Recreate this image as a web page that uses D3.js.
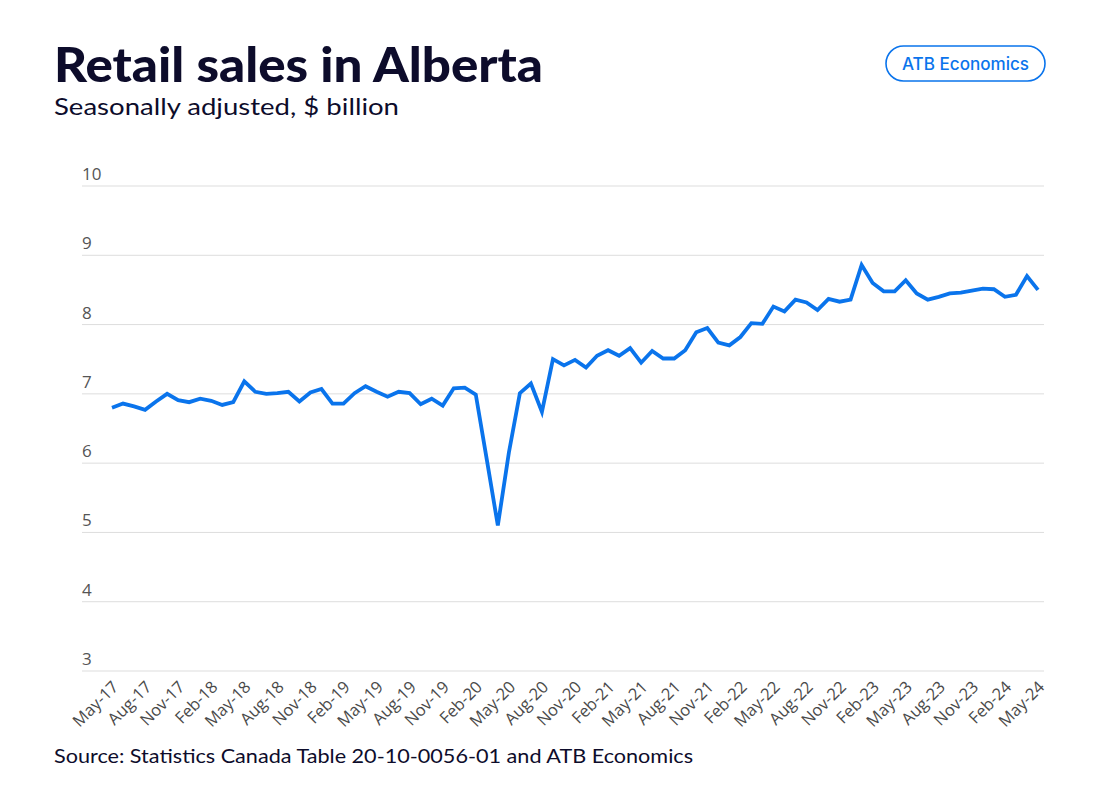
<!DOCTYPE html>
<html>
<head>
<meta charset="utf-8">
<script src="https://cdn.jsdelivr.net/npm/d3@7"></script>
<style>
  html, body { margin: 0; padding: 0; background: #ffffff; }
  svg { display: block; }
</style>
</head>
<body>
<svg id="chart" width="1120" height="808"></svg>
<script>
// ---- Data ----
const startMonth = new Date(2017, 4, 1); // May 2017
const endMonth = new Date(2024, 4, 1);   // May 2024
const months = d3.timeMonth.range(startMonth, d3.timeMonth.offset(endMonth, 1));

const sales = [
  6.80, 6.86, 6.82, 6.77, 6.89, 7.00, 6.91, 6.88, 6.93, 6.90, 6.84, 6.88, // May-17 .. Apr-18
  7.18, 7.03, 7.00, 7.01, 7.03, 6.89, 7.02, 7.07, 6.86, 6.86, 7.01, 7.11, // May-18 .. Apr-19
  7.03, 6.96, 7.03, 7.01, 6.85, 6.93, 6.83, 7.08, 7.09, 6.99, 6.05, 5.10, // May-19 .. Apr-20
  6.15, 7.01, 7.15, 6.74, 7.50, 7.41, 7.49, 7.38, 7.55, 7.63, 7.55, 7.66, // May-20 .. Apr-21
  7.45, 7.62, 7.51, 7.51, 7.63, 7.89, 7.95, 7.74, 7.70, 7.82, 8.02, 8.01, // May-21 .. Apr-22
  8.26, 8.19, 8.36, 8.32, 8.21, 8.37, 8.33, 8.36, 8.86, 8.60, 8.48, 8.48, // May-22 .. Apr-23
  8.64, 8.45, 8.36, 8.40, 8.45, 8.46, 8.49, 8.52, 8.51, 8.40, 8.43, 8.70, // May-23 .. Apr-24
  8.50                                                                    // May-24
];

const yTicks = [3, 4, 5, 6, 7, 8, 9, 10];
const tickEvery = 3;

const titleText = "Retail sales in Alberta";
const subtitleText = "Seasonally adjusted, $ billion";
const badgeText = "ATB Economics";
const sourceText = "Source: Statistics Canada Table 20-10-0056-01 and ATB Economics";

// ---- Layout ----
const svg = d3.select("#chart");
const gridLeft = 82, gridRight = 1044;
const x = d3.scaleLinear().domain([0, months.length - 1]).range([112, 1038]);
const y = d3.scaleLinear().domain([3, 10]).range([671, 186]);
const blue = "#0a74ec";
const navy = "#0d0c2b";
const fmt = d3.timeFormat("%b-%y");

// Title
svg.append("text")
  .attr("x", 54).attr("y", 82)
  .attr("font-family", "Lato, 'Noto Sans', sans-serif")
  .attr("font-weight", 900)
  .attr("font-size", 47)
  .attr("textLength", 489)
  .attr("lengthAdjust", "spacingAndGlyphs")
  .attr("fill", navy)
  .text(titleText);

svg.append("text")
  .attr("x", 54).attr("y", 115)
  .attr("font-family", "Lato, 'Noto Sans', sans-serif")
  .attr("font-weight", 400)
  .attr("font-size", 23.5)
  .attr("textLength", 345)
  .attr("lengthAdjust", "spacingAndGlyphs")
  .attr("fill", navy)
  .text(subtitleText);

// Badge
const badge = svg.append("g");
badge.append("rect")
  .attr("x", 886).attr("y", 46)
  .attr("width", 159).attr("height", 35)
  .attr("rx", 17.5).attr("ry", 17.5)
  .attr("fill", "#ffffff")
  .attr("stroke", blue)
  .attr("stroke-width", 1.6);
badge.append("text")
  .attr("x", 965.5).attr("y", 69.5)
  .attr("text-anchor", "middle")
  .attr("font-family", "Inter, 'Noto Sans', sans-serif")
  .attr("font-weight", 500)
  .attr("font-size", 17)
  .attr("textLength", 127)
  .attr("lengthAdjust", "spacingAndGlyphs")
  .attr("fill", blue)
  .text(badgeText);

// Gridlines + y labels
const yAxis = svg.append("g");
yTicks.forEach(t => {
  yAxis.append("line")
    .attr("x1", gridLeft).attr("x2", gridRight)
    .attr("y1", y(t)).attr("y2", y(t))
    .attr("stroke", "#dddddd").attr("stroke-width", 1);
  yAxis.append("text")
    .attr("x", gridLeft).attr("y", y(t) - 6)
    .attr("font-family", "'Open Sans', sans-serif")
    .attr("font-size", 17)
    .attr("fill", "#555555")
    .text(t);
});

// X axis (labels only)
const tickIdx = d3.range(0, months.length, tickEvery);
const xAxis = d3.axisBottom(x)
  .tickValues(tickIdx)
  .tickFormat(i => fmt(months[i]))
  .tickSize(0)
  .tickPadding(0);
const gx = svg.append("g").attr("transform", "translate(0,671)").call(xAxis);
gx.select(".domain").remove();
gx.selectAll("text")
  .attr("font-family", "'Open Sans', sans-serif")
  .attr("font-size", 16.5)
  .attr("fill", "#4a4a4a")
  .attr("text-anchor", "end")
  .attr("dy", null)
  .attr("y", 0)
  .attr("transform", "translate(7,17) rotate(-45)");

// Line
const line = d3.line()
  .x((d, i) => x(i))
  .y(d => y(d));
svg.append("path")
  .datum(sales)
  .attr("d", line)
  .attr("fill", "none")
  .attr("stroke", blue)
  .attr("stroke-width", 3.8)
  .attr("stroke-linejoin", "miter")
  .attr("stroke-linecap", "butt");

// Source
svg.append("text")
  .attr("x", 54).attr("y", 763)
  .attr("font-family", "Lato, 'Noto Sans', sans-serif")
  .attr("font-size", 20)
  .attr("textLength", 639)
  .attr("lengthAdjust", "spacingAndGlyphs")
  .attr("fill", navy)
  .text(sourceText);
</script>
</body>
</html>
